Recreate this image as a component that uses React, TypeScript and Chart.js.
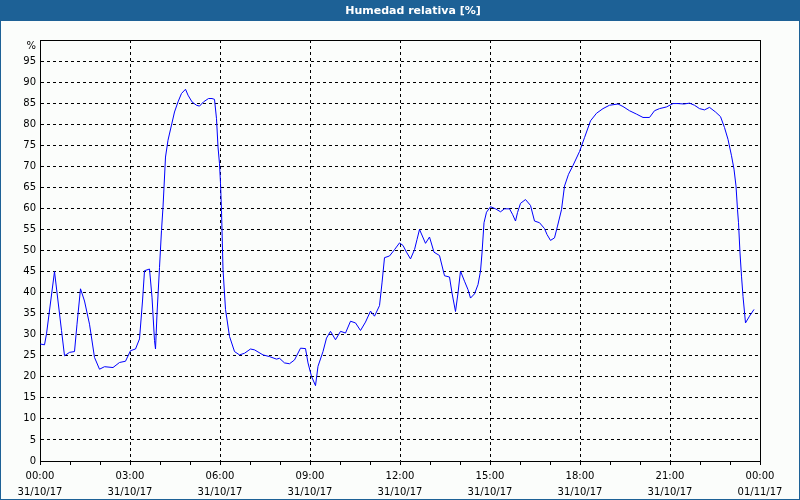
import React, { useEffect, useRef } from 'react';
import { Chart, registerables } from 'chart.js';

Chart.register(...registerables);

const TITLE = 'Humedad relativa [%]';
const Y_UNIT = '%';

// sample times in minutes since 31/10/17 00:00
const minutes = [
  0, 9, 13, 29, 43, 49, 59, 69, 74, 81, 89, 99, 109, 119, 129, 146, 159, 171, 181, 191,
  199, 205, 209, 219, 224, 229, 231, 234, 239, 243, 246, 248, 251, 256, 263, 269, 276, 283, 291, 296,
  304, 313, 319, 327, 337, 344, 349, 353, 356, 359, 361, 363, 366, 371, 379, 389, 399, 409, 421, 429,
  446, 459, 473, 479, 489, 499, 509, 521, 531, 536, 543, 551, 556, 566, 573, 581, 591, 601, 611, 621,
  631, 641, 651, 661, 669, 679, 684, 689, 699, 709, 719, 726, 733, 741, 749, 754, 759, 771, 779, 788,
  799, 809, 819, 824, 831, 836, 841, 849, 856, 861, 869, 876, 881, 884, 888, 893, 901, 911, 921, 929,
  939, 945, 951, 955, 961, 971, 981, 989, 999, 1009, 1014, 1021, 1029, 1035, 1043, 1049, 1057, 1066, 1079, 1089,
  1101, 1113, 1126, 1139, 1156, 1166, 1179, 1193, 1206, 1219, 1229, 1239, 1253, 1266, 1276, 1288, 1299, 1309, 1319, 1329,
  1339, 1351, 1361, 1369, 1376, 1383, 1388, 1392, 1395, 1397, 1400, 1403, 1406, 1411, 1419, 1428,
];

const humidity = [
  27.8, 27.6, 30.2, 45, 31, 25, 25.8, 26, 32.5, 40.9, 38, 32.5, 24.6, 21.8, 22.4, 22.2, 23.4, 23.7, 26.2, 26.6,
  29, 38, 45.2, 45.6, 38.9, 28.6, 26.6, 34.9, 46, 54.8, 60.3, 65, 72.2, 76.2, 79.8, 82.9, 85.3, 87.3, 88.3, 86.9,
  85.3, 84.5, 84.3, 85.3, 86.1, 86.1, 85.9, 81.3, 74.6, 70.6, 66, 59.5, 45.5, 36, 29.6, 26, 25.2, 25.6, 26.6, 26.4,
  25.2, 24.8, 24.2, 24.4, 23.3, 23.1, 24, 26.8, 26.7, 23.3, 20.1, 17.9, 22.5, 26, 29.2, 30.8, 28.8, 30.8, 30.4, 33.2,
  32.8, 31, 33, 35.6, 34.4, 36.9, 42.3, 48.3, 48.7, 50.2, 51.8, 51.2, 49.6, 48, 50.2, 52.6, 55, 51.7, 53.2, 49.6,
  48.8, 44, 43.7, 39.9, 35.5, 39.9, 45.1, 42.7, 40.7, 38.7, 39.7, 41.9, 45.1, 49.4, 56.6, 59.1, 60.4, 59.9, 59.2, 59.9,
  59.9, 58.6, 57, 59, 61.2, 62.1, 60.7, 57, 56.6, 55.2, 53.8, 52.4, 53, 55.8, 59.7, 65.3, 68.1, 70.2, 73.5, 76.8,
  80.8, 82.6, 83.7, 84.5, 84.8, 84.2, 83.2, 82.4, 81.6, 81.6, 83.2, 83.7, 84.1, 84.9, 84.9, 84.8, 85, 84.5, 83.7, 83.4,
  84, 82.9, 81.8, 79.2, 76.4, 72.5, 69.3, 65.3, 59.7, 56.6, 49.4, 43.9, 39.1, 32.8, 34.4, 36,
];

const tickPositions = [0, 180, 360, 540, 720, 900, 1080, 1260, 1440];
const tickTimes = ['00:00', '03:00', '06:00', '09:00', '12:00', '15:00', '18:00', '21:00', '00:00'];
const tickDates = ['31/10/17', '31/10/17', '31/10/17', '31/10/17', '31/10/17', '31/10/17', '31/10/17', '31/10/17', '01/11/17'];

const FONT = 'DejaVu Sans';

const framePlugin = {
  id: 'frame',
  beforeDraw(chart: any) {
    const { ctx, width, height } = chart;
    ctx.save();
    ctx.fillStyle = '#fbfdfb';
    ctx.fillRect(0, 0, width, height);
    ctx.fillStyle = '#1d6196';
    ctx.fillRect(0, 0, width, 21);
    ctx.strokeStyle = '#1d6196';
    ctx.lineWidth = 1;
    ctx.strokeRect(0.5, 0.5, width - 1, height - 1);
    ctx.fillStyle = '#ffffff';
    ctx.font = `bold 11px "${FONT}"`;
    ctx.textAlign = 'center';
    ctx.textBaseline = 'middle';
    ctx.fillText(TITLE, 413, 11);
    ctx.restore();
  },
  afterDraw(chart: any) {
    const { ctx, chartArea: a } = chart;
    ctx.save();
    ctx.strokeStyle = '#000';
    ctx.lineWidth = 1;
    const l = Math.round(a.left) + 0.5;
    const t = Math.round(a.top) + 0.5;
    const r = Math.round(a.right) + 0.5;
    const b = Math.round(a.bottom) + 0.5;
    ctx.beginPath();
    ctx.moveTo(l, t);
    ctx.lineTo(r, t);
    ctx.lineTo(r, b);
    ctx.stroke();
    ctx.fillStyle = '#000';
    ctx.font = `10px "${FONT}"`;
    ctx.textAlign = 'right';
    ctx.textBaseline = 'middle';
    ctx.fillText(Y_UNIT, a.left - 4, a.top + 6);
    ctx.restore();
  },
};

export default function App() {
  const ref = useRef<HTMLCanvasElement | null>(null);

  useEffect(() => {
    document.body.style.margin = '0';
    const canvas = ref.current;
    if (!canvas) return;
    const chart = new Chart(canvas, {
      type: 'line',
      data: {
        datasets: [
          {
            label: TITLE,
            data: minutes.map((m, i) => ({ x: m, y: humidity[i] })),
            borderColor: '#0000ff',
            borderWidth: 1,
            pointRadius: 0,
            tension: 0,
            fill: false,
          },
        ],
      },
      options: {
        animation: false,
        responsive: false,
        devicePixelRatio: 1,
        layout: { padding: { top: 40, right: 40, left: 0, bottom: 0 } },
        plugins: {
          legend: { display: false },
          tooltip: { enabled: false },
          title: { display: false },
        },
        scales: {
          x: {
            type: 'linear',
            min: 0,
            max: 1440,
            afterFit: (s: any) => {
              s.height = 39;
            },
            ticks: {
              stepSize: 60,
              autoSkip: false,
              maxRotation: 0,
              padding: 3,
              color: '#000',
              font: { family: FONT, size: 10, lineHeight: 1.6 },
              callback: (v: any) => {
                const i = tickPositions.indexOf(Number(v));
                return i >= 0 ? [tickTimes[i], tickDates[i]] : '';
              },
            },
            grid: {
              color: (c: any) => (c.tick && tickPositions.includes(c.tick.value) ? '#000' : 'rgba(0,0,0,0)'),
              tickColor: '#000',
              tickLength: 4,
              lineWidth: 1,
            },
            border: { display: true, color: '#000', width: 1, dash: [3, 3] },
          },
          y: {
            min: 0,
            max: 100,
            afterFit: (s: any) => {
              s.width = 40;
            },
            ticks: {
              stepSize: 5,
              padding: 4,
              color: '#000',
              font: { family: FONT, size: 10 },
              callback: (v: any) => (Number(v) === 100 ? '' : String(v)),
            },
            grid: {
              color: '#000',
              lineWidth: 1,
              drawTicks: false,
            },
            border: { display: true, color: '#000', width: 1, dash: [3, 3] },
          },
        },
      },
      plugins: [framePlugin],
    });
    return () => chart.destroy();
  }, []);

  return <canvas ref={ref} width={800} height={500} style={{ display: 'block' }} />;
}
